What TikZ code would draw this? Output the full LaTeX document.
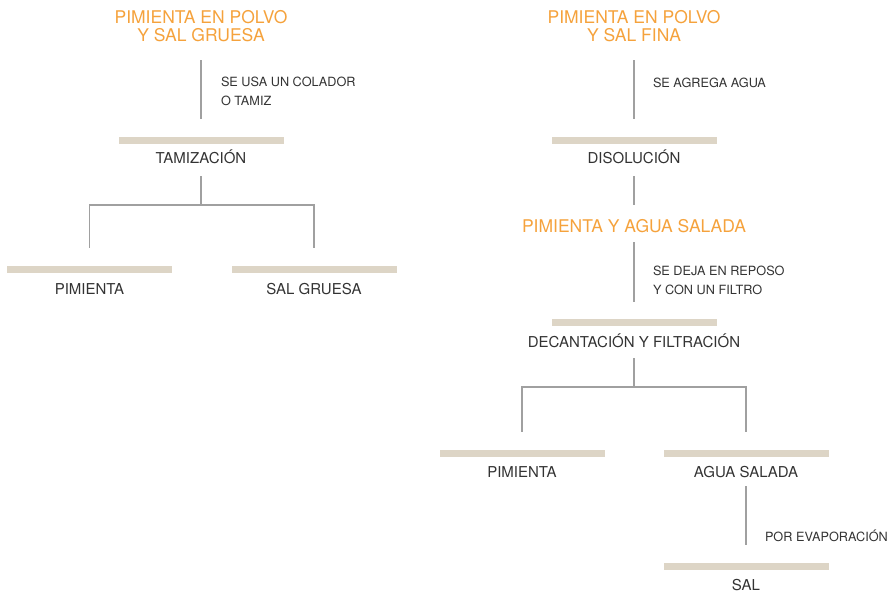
\documentclass[tikz,border=0pt]{standalone}
\usepackage{fontspec}
\setmainfont{TeX Gyre Heros}
\definecolor{orng}{HTML}{F5A23C}
\definecolor{txtc}{HTML}{333333}
\definecolor{linec}{HTML}{A0A0A0}
\definecolor{barc}{HTML}{DDD5C6}
\begin{document}
\begin{tikzpicture}[x=1pt,y=-1pt,
  bar/.style={fill=barc, draw=none, minimum width=165pt, minimum height=7pt, inner sep=0pt, outer sep=0pt},
  lbl/.style={font=\fontsize{15}{18}\selectfont, text=txtc, inner sep=0pt, outer sep=0pt, anchor=base},
  ttl/.style={font=\fontsize{17.5}{18.5}\selectfont, text=orng, align=center, inner sep=0pt, outer sep=0pt, anchor=base},
  note/.style={font=\fontsize{12.7}{19}\selectfont, text=txtc, align=left, inner sep=0pt, outer sep=0pt, anchor=base west},
  conn/.style={draw=linec, line width=1.6pt}]
\useasboundingbox (0,0) rectangle (888,593);

% ---------- left column ----------
\node[ttl] (t1) at (201,42) {PIMIENTA EN POLVO\\Y SAL GRUESA};
\node[note] (n1) at (221,106) {SE USA UN COLADOR\\O TAMIZ};
\node[bar] (b1) at (201,140.5) {};
\node[lbl] (tam) at (201,164) {TAMIZACIÓN};
\coordinate (j1) at (201,205);
\node[bar] (b1l) at (89.5,270) {};
\node[bar] (b1r) at (314,270) {};
\node[lbl] (pim1) at (89.5,295) {PIMIENTA};
\node[lbl] (salg) at (314,295) {SAL GRUESA};

\draw[conn, shorten <=18pt, shorten >=18pt] (t1.south) -- (b1.north);
\draw[conn, shorten <=12pt] (tam.south) -- (j1);
\draw[conn, shorten >=18pt] (j1) -| (b1l.north);
\draw[conn, shorten >=18pt] (j1) -| (b1r.north);

% ---------- right column ----------
\node[ttl] (t2) at (634,42) {PIMIENTA EN POLVO\\Y SAL FINA};
\node[note] (n2) at (653,87.5) {SE AGREGA AGUA};
\node[bar] (b2) at (634,140.5) {};
\node[lbl] (dis) at (634,164) {DISOLUCIÓN};
\node[ttl] (t3) at (634,233) {PIMIENTA Y AGUA SALADA};
\node[note] (n3) at (653,294.5) {SE DEJA EN REPOSO\\Y CON UN FILTRO};
\node[bar] (b3) at (634,322.5) {};
\node[lbl] (dec) at (634,347) {DECANTACIÓN Y FILTRACIÓN};
\coordinate (j2) at (634,387);
\node[bar] (b4) at (522,453.5) {};
\node[bar] (b5) at (746,453.5) {};
\node[lbl] (pim2) at (522,477) {PIMIENTA};
\node[lbl] (agua) at (746,477) {AGUA SALADA};
\node[note] (n4) at (765,541) {POR EVAPORACIÓN};
\node[bar] (b6) at (746,566.5) {};
\node[lbl] (sal) at (746,590) {SAL};

\draw[conn, shorten <=18pt, shorten >=18pt] (t2.south) -- (b2.north);
\draw[conn, shorten <=12pt, shorten >=15pt] (dis.south) -- (t3.north);
\draw[conn, shorten <=9pt, shorten >=17pt] (t3.south) -- (b3.north);
\draw[conn, shorten <=11pt] (dec.south) -- (j2);
\draw[conn, shorten >=18pt] (j2) -| (b4.north);
\draw[conn, shorten >=18pt] (j2) -| (b5.north);
\draw[conn, shorten <=9pt, shorten >=18pt] (agua.south) -- (b6.north);
\end{tikzpicture}
\end{document}
